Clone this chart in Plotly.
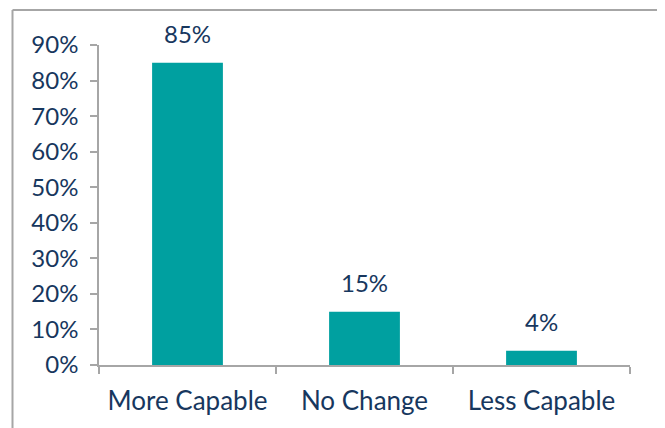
import plotly.graph_objects as go

categories = ["More Capable", "No Change", "Less Capable"]
values = [85, 15, 4]
tick_vals = [0, 10, 20, 30, 40, 50, 60, 70, 80, 90]
tick_text = ["0%", "10%", "20%", "30%", "40%", "50%", "60%", "70%", "80%", "90%"]
label_text = ["85%", "15%", "4%"]

navy = "#17375E"
teal = "#00A0A0"
gray = "#A6A6A6"

fig = go.Figure(go.Bar(
    x=categories, y=values, marker_color=teal, marker_line_width=0,
))

for c, v, t in zip(categories, values, label_text):
    fig.add_annotation(x=c, y=v, text=t, showarrow=False, yanchor="bottom",
                       yshift=13, font=dict(size=24, color=navy, family="Lato"))

# page has an 8px body offset
OFF = 8
L, R, T, B = 91, 43, 37, 71
W, H = 665, 428
pw, ph = W - L - R, H - T - B

def px_x(px):
    return (px - OFF - L) / pw

def px_y(py):
    return (H - B - (py - OFF)) / ph

shapes = [
    dict(type="line", xref="paper", yref="paper", x0=px_x(12.5), x1=px_x(12.5), y0=px_y(10), y1=px_y(450), line=dict(color=gray, width=2)),
    dict(type="line", xref="paper", yref="paper", x0=px_x(12.5), x1=px_x(663.5), y0=px_y(10), y1=px_y(10), line=dict(color=gray, width=2)),
    dict(type="line", xref="paper", yref="paper", x0=px_x(663.5), x1=px_x(663.5), y0=px_y(10), y1=px_y(450), line=dict(color=gray, width=2)),
]

fig.update_layout(
    width=W, height=H,
    margin=dict(l=L, r=R, t=T, b=B),
    paper_bgcolor="white", plot_bgcolor="white",
    bargap=0.6, showlegend=False,
    font=dict(family="Lato", color=navy),
    shapes=shapes,
)
fig.update_xaxes(
    showline=True, linecolor=gray, linewidth=1.5,
    ticks="outside", tickson="boundaries", ticklen=7, tickcolor=gray, tickwidth=1.5,
    tickfont=dict(size=26, color=navy, family="Lato"), showgrid=False,
    ticklabelstandoff=12,
)
fig.update_yaxes(
    range=[0, 90], tickvals=tick_vals, ticktext=tick_text,
    showline=True, linecolor=gray, linewidth=1.5,
    ticks="outside", ticklen=7, tickcolor=gray, tickwidth=1.5,
    tickfont=dict(size=24, color=navy, family="Lato"), showgrid=False, zeroline=False,
    ticklabelstandoff=7,
)

fig.write_html("out.html")
